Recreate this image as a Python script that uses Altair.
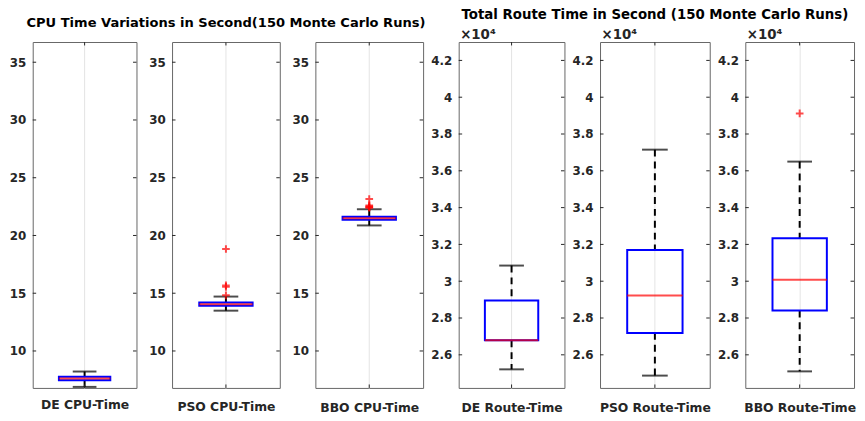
import altair as alt
import pandas as pd

# ---------------- data ----------------
panels = ["DE CPU-Time", "PSO CPU-Time", "BBO CPU-Time",
          "DE Route-Time", "PSO Route-Time", "BBO Route-Time"]
lower_whisker = [6.89, 13.49, 20.87, 25210, 24870, 25100]
q1 = [7.46, 13.92, 21.36, 26790, 27190, 28410]
median = [7.61, 14.05, 21.50, 26790, 29220, 30080]
q3 = [7.76, 14.20, 21.63, 28950, 31700, 32330]
upper_whisker = [8.22, 14.71, 22.27, 30850, 37150, 36500]
outliers = [[], [14.82, 15.55, 15.68, 18.83],
            [22.40, 22.45, 22.50, 22.60, 23.15], [], [], [39120]]
cpu_ticks = [10, 15, 20, 25, 30, 35]
route_ticks = [26000, 28000, 30000, 32000, 34000, 36000, 38000, 40000, 42000]
cpu_domain = [6.8, 36.75]
route_domain = [24200, 43000]
cpu_title = "CPU Time Variations in Second(150 Monte Carlo Runs)"
route_title = "Total Route Time in Second (150 Monte Carlo Runs)"

# ---------------- layout / style ----------------
panel_widths = [105, 109, 109, 107, 111, 110]
title_pads = [11, 13, 14, 14, 14, 14]
H = 350
FONT = "DejaVu Sans"
TXT = "#262626"


def make_panel(i):
    route = i >= 3
    name = panels[i]
    w = panel_widths[i]
    box_w = round(w * 0.5)
    cap_w = round(w * 0.23)
    stats = pd.DataFrame({"panel": [name], "lw": [lower_whisker[i]], "q1": [q1[i]],
                          "med": [median[i]], "q3": [q3[i]], "uw": [upper_whisker[i]]})
    outl = pd.DataFrame({"panel": [name] * len(outliers[i]), "value": outliers[i]})
    tdf = pd.DataFrame({"tick": route_ticks if route else cpu_ticks})
    dom = route_domain if route else cpu_domain

    yscale = alt.Scale(domain=dom, nice=False, zero=False)
    ykw = dict(values=route_ticks if route else cpu_ticks, ticks=False, domain=False,
               grid=False, labelFont=FONT, labelFontWeight="bold", labelFontSize=12,
               labelColor=TXT, labelPadding=7)
    if route:
        ykw.update(labelExpr="format(datum.value / 10000, '~g')", title="×10⁴",
                   titleAngle=0, titleAlign="left", titleBaseline="alphabetic",
                   titleX=1, titleY=-4, titleFont=FONT, titleFontSize=13.5,
                   titleFontWeight="bold", titleColor=TXT)
    else:
        ykw.update(title=None)
    yaxis = alt.Axis(**ykw)
    xscale = alt.Scale(type="band", paddingInner=0, paddingOuter=0)
    xaxis = alt.Axis(title=name, labels=False, ticks=False, domain=False, grid=True,
                     gridColor="#e4e4e4", gridWidth=1, titleFont=FONT, titleFontSize=12.5,
                     titleFontWeight="bold", titleColor=TXT, titlePadding=title_pads[i])

    def X():
        return alt.X("panel:N", scale=xscale, axis=xaxis)

    def Y(f):
        return alt.Y(f, scale=yscale, axis=yaxis)

    base = alt.Chart(stats)
    whisk_hi = base.mark_rule(strokeDash=[7, 5], strokeWidth=2, color="black").encode(
        x=X(), y=Y("uw:Q"), y2="q3:Q")
    whisk_lo = base.mark_rule(strokeDash=[7, 5], strokeWidth=2, color="black").encode(
        x=X(), y=Y("q1:Q"), y2="lw:Q")
    box = base.mark_bar(size=box_w, fillOpacity=0, stroke="#0000ff", strokeWidth=2).encode(
        x=X(), y=Y("q1:Q"), y2="q3:Q")
    med = base.mark_tick(size=box_w, thickness=2, color="#ff0000").encode(x=X(), y=Y("med:Q"))
    cap_hi = base.mark_tick(size=cap_w, thickness=2, color="black").encode(x=X(), y=Y("uw:Q"))
    cap_lo = base.mark_tick(size=cap_w, thickness=2, color="black").encode(x=X(), y=Y("lw:Q"))
    xt_top = base.mark_rule(color=TXT, strokeWidth=1).encode(
        x=X(), y=alt.value(0), y2=alt.value(3.5))
    xt_bot = base.mark_rule(color=TXT, strokeWidth=1).encode(
        x=X(), y=alt.value(H - 3.5), y2=alt.value(H))
    tl = alt.Chart(tdf).mark_rule(color=TXT, strokeWidth=1).encode(
        y=Y("tick:Q"), x=alt.value(0), x2=alt.value(3.5))
    tr = alt.Chart(tdf).mark_rule(color=TXT, strokeWidth=1).encode(
        y=Y("tick:Q"), x=alt.value(w - 3.5), x2=alt.value(w))
    layers = [whisk_hi, whisk_lo, box, med, cap_hi, cap_lo, xt_top, xt_bot, tl, tr]
    if len(outliers[i]):
        pts = alt.Chart(outl).mark_point(shape="M-1,0H1M0,-1V1", size=60, strokeWidth=2,
                                         color="#ff0000", filled=False).encode(
            x=X(), y=Y("value:Q"))
        layers.append(pts)
    props = dict(width=w, height=H)
    if i == 1:
        props["title"] = alt.Title(cpu_title, font=FONT, fontSize=13.2, fontWeight="bold",
                                   color="black", anchor="middle", offset=11)
    if i == 4:
        props["title"] = alt.Title(route_title, font=FONT, fontSize=13.5, fontWeight="bold",
                                   color="black", anchor="middle", offset=6)
    return alt.layer(*layers).properties(**props)


p = [make_panel(i) for i in range(6)]
chart = alt.HConcatChart(hconcat=p, spacing=36, bounds="flush").properties(
    padding={"left": 0, "top": -3, "right": 0, "bottom": 0}
).configure_view(stroke="#666666", strokeWidth=1)

chart.save("out.html", embed_options={"renderer": "svg", "actions": False})
